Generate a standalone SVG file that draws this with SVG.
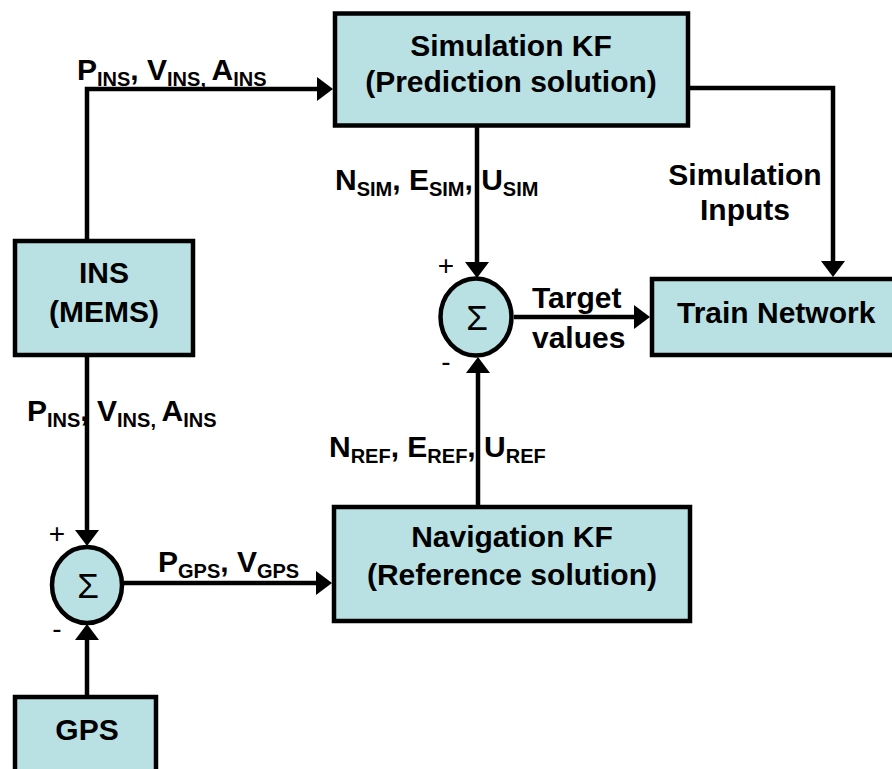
<svg xmlns="http://www.w3.org/2000/svg" width="892" height="769" viewBox="0 0 892 769">
  <defs>
    <marker id="arrow" markerUnits="userSpaceOnUse" markerWidth="16" markerHeight="24" refX="0" refY="12" orient="auto" overflow="visible">
      <path d="M0,0 L16,12 L0,24 Z" fill="#000"/>
    </marker>
    <style>
      .box { fill: #b9e0e3; stroke: #000; stroke-width: 4.5; }
      .sum { fill: #b9e0e3; stroke: #000; stroke-width: 4.5; }
      .wire { fill: none; stroke: #000; stroke-width: 4.5; marker-end: url(#arrow); }
      text { font-family: "Liberation Sans", Arial, sans-serif; font-weight: bold; fill: #000; }
      .t { font-size: 30px; }
      .c { text-anchor: middle; }
      .sub { font-size: 20px; }
      .sign { font-size: 28px; font-weight: normal; text-anchor: middle; }
      .sigma { font-size: 35px; font-weight: normal; text-anchor: middle; }
    </style>
  </defs>

  <!-- connectors -->
  <g id="connectors">
    <path class="wire" d="M87,239 V89 H317"/>
    <path class="wire" d="M477,127 V262"/>
    <path class="wire" d="M690,88 H833 V261"/>
    <path class="wire" d="M514,317 H634"/>
    <path class="wire" d="M478,505 V373"/>
    <path class="wire" d="M87,357 V530"/>
    <path class="wire" d="M87,695 V640"/>
    <path class="wire" d="M124,583 H316"/>
  </g>

  <!-- edge labels and summing-junction signs -->
  <g id="labels">
    <text class="t" x="77" y="80">P<tspan class="sub" dy="6">INS</tspan><tspan dy="-6">, V</tspan><tspan class="sub" dy="6">INS, </tspan><tspan dy="-6">A</tspan><tspan class="sub" dy="6">INS</tspan></text>
    <text class="t" x="335" y="190">N<tspan class="sub" dy="6">SIM</tspan><tspan dy="-6">, E</tspan><tspan class="sub" dy="6">SIM</tspan><tspan dy="-6">, U</tspan><tspan class="sub" dy="6">SIM</tspan></text>
    <text class="t c" x="745" y="185">Simulation</text>
    <text class="t c" x="745" y="220">Inputs</text>
    <text class="t" x="532" y="308">Target</text>
    <text class="t" x="532" y="348">values</text>
    <text class="t" x="27" y="421">P<tspan class="sub" dy="6">INS</tspan><tspan dy="-6">, V</tspan><tspan class="sub" dy="6">INS, </tspan><tspan dy="-6">A</tspan><tspan class="sub" dy="6">INS</tspan></text>
    <text class="t" x="329" y="457">N<tspan class="sub" dy="6">REF</tspan><tspan dy="-6">, E</tspan><tspan class="sub" dy="6">REF</tspan><tspan dy="-6">, U</tspan><tspan class="sub" dy="6">REF</tspan></text>
    <text class="t" x="158" y="572">P<tspan class="sub" dy="6">GPS</tspan><tspan dy="-6">, V</tspan><tspan class="sub" dy="6">GPS</tspan></text>
    <text class="sign" x="446" y="275">+</text>
    <text class="sign" x="446" y="371">-</text>
    <text class="sign" x="57" y="543">+</text>
    <text class="sign" x="57" y="638">-</text>
  </g>

  <g id="simulation-kf">
    <rect class="box" x="335" y="13.5" width="353" height="112"/>
    <text class="t c" x="511" y="56">Simulation KF</text>
    <text class="t c" x="511" y="92">(Prediction solution)</text>
  </g>

  <g id="ins">
    <rect class="box" x="15" y="241" width="178" height="114"/>
    <text class="t c" x="104" y="283">INS</text>
    <text class="t c" x="104" y="322">(MEMS)</text>
  </g>

  <g id="sum-target">
    <ellipse class="sum" cx="476" cy="317" rx="35.5" ry="38.5"/>
    <text class="sigma" x="477" y="330">Σ</text>
  </g>

  <g id="train-network">
    <rect class="box" x="652" y="279" width="260" height="76"/>
    <text class="t" x="677" y="323">Train Network</text>
  </g>

  <g id="navigation-kf">
    <rect class="box" x="334" y="507" width="356" height="114"/>
    <text class="t c" x="512" y="547">Navigation KF</text>
    <text class="t c" x="512" y="585">(Reference solution)</text>
  </g>

  <g id="sum-gps">
    <ellipse class="sum" cx="87" cy="585" rx="35" ry="38"/>
    <text class="sigma" x="88" y="598">Σ</text>
  </g>

  <g id="gps">
    <rect class="box" x="15" y="697" width="141" height="100"/>
    <text class="t c" x="87" y="740">GPS</text>
  </g>
</svg>
